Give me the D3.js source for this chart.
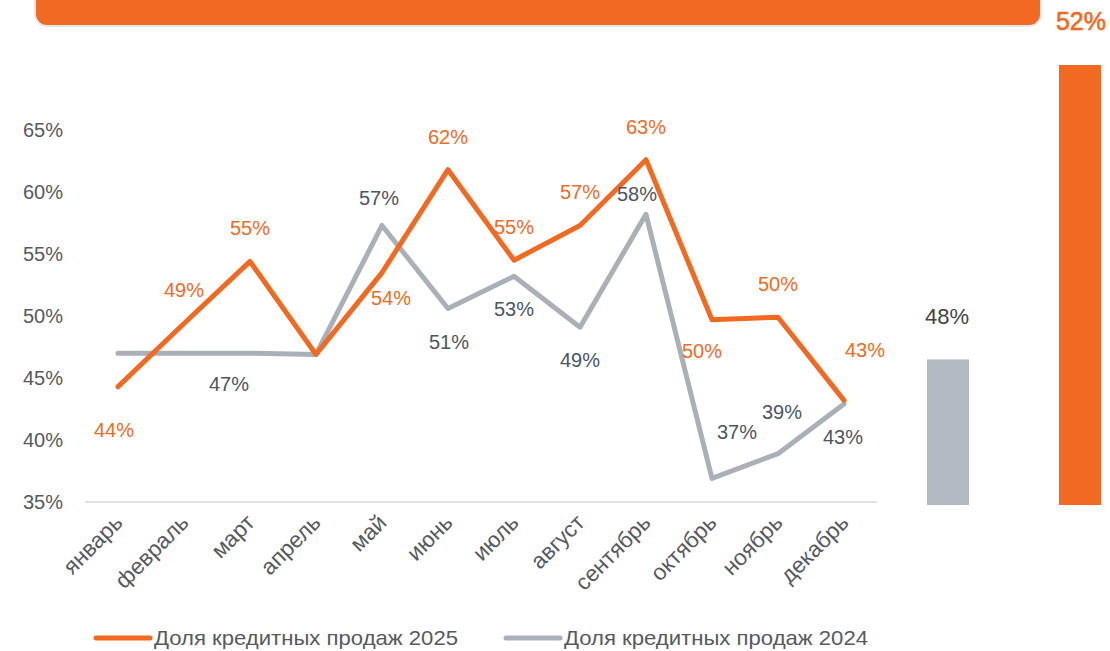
<!DOCTYPE html>
<html>
<head>
<meta charset="utf-8">
<script src="https://cdn.jsdelivr.net/npm/d3@7"></script>
<style>
  body { margin: 0; background: #fff; }
  svg { display: block; font-family: "Liberation Sans", Arial, sans-serif; }
</style>
</head>
<body>
<svg id="chart" width="1110" height="651"></svg>
<script>
// months and series
const months = ['январь', 'февраль', 'март', 'апрель', 'май', 'июнь', 'июль', 'август', 'сентябрь', 'октябрь', 'ноябрь', 'декабрь'];
const share2025 = [44.3, 49.4, 54.4, 46.9, 53.5, 61.8, 54.5, 57.3, 62.6, 49.7, 49.9, 43.2];
const share2024 = [47.0, 47.0, 47.0, 46.9, 57.3, 50.6, 53.2, 49.1, 58.2, 36.9, 38.9, 42.9];
// which labels are shown
const labels2025 = ['44%', '49%', '55%', '', '54%', '62%', '55%', '57%', '63%', '50%', '50%', '43%'];
const labels2024 = ['', '', '47%', '', '57%', '51%', '53%', '49%', '58%', '37%', '39%', '43%'];
const yTicks = [35, 40, 45, 50, 55, 60, 65];
const avg2024 = 46.5, avg2024Label = '48%';
const avg2025Label = '52%';
const legendNames = ['Доля кредитных продаж 2025', 'Доля кредитных продаж 2024'];

const ORANGE = '#F26A21';
const GRAY = '#A9B0B8';
const TEXT = '#555a5f';
const DARK = '#4b5663';

const svg = d3.select('#chart');

const x = d3.scalePoint().domain(months).range([85, 877]).padding(0.5);
const y = d3.scaleLinear().domain([35, 65]).range([502, 130]);

// top banner
svg.append('rect')
  .attr('x', 35).attr('y', -30).attr('width', 1006).attr('height', 56)
  .attr('rx', 12)
  .attr('fill', ORANGE).attr('stroke', '#e2e7eb').attr('stroke-width', 2);

svg.append('text')
  .attr('x', 1081).attr('y', 30)
  .attr('text-anchor', 'middle')
  .attr('fill', ORANGE)
  .attr('font-size', 25)
  .attr('stroke', ORANGE).attr('stroke-width', 0.6)
  .text(avg2025Label);

// baseline
svg.append('line')
  .attr('x1', 85).attr('x2', 877)
  .attr('y1', y(35)).attr('y2', y(35))
  .attr('stroke', '#d9d9d9').attr('stroke-width', 1.5);

// y tick labels
svg.append('g').selectAll('text')
  .data(yTicks).join('text')
  .attr('x', 63).attr('y', d => y(d) + 7)
  .attr('text-anchor', 'end')
  .attr('fill', TEXT)
  .attr('font-size', 20)
  .text(d => d + '%');

// x labels, rotated
svg.append('g').selectAll('text')
  .data(months).join('text')
  .attr('transform', d => `translate(${x(d) + 6},${524}) rotate(-45)`)
  .attr('text-anchor', 'end')
  .attr('fill', TEXT)
  .attr('font-size', 22.5)
  .text(d => d);

const line = d3.line()
  .x((d, i) => x(months[i]))
  .y(d => y(d));

svg.append('path')
  .datum(share2024)
  .attr('d', line)
  .attr('fill', 'none').attr('stroke', GRAY)
  .attr('stroke-width', 5).attr('stroke-linejoin', 'round').attr('stroke-linecap', 'round');

svg.append('path')
  .datum(share2025)
  .attr('d', line)
  .attr('fill', 'none').attr('stroke', ORANGE)
  .attr('stroke-width', 5).attr('stroke-linejoin', 'round').attr('stroke-linecap', 'round');

// label offsets relative to each point
const off2025 = [[-4, 50], [0, -26], [0, -26], [0, 0], [9, 32], [0, -26], [0, -26], [0, -26], [0, -26], [-10, 38], [0, -26], [21, -43]];
const off2024 = [[0, 0], [0, 0], [-21, 38], [0, 0], [-3, -20], [1, 40], [0, 40], [0, 40], [-9, -13], [25, -39], [4, -35], [-1, 40]];

svg.append('g').selectAll('text')
  .data(share2025).join('text')
  .attr('x', (d, i) => x(months[i]) + off2025[i][0])
  .attr('y', (d, i) => y(d) + off2025[i][1])
  .attr('text-anchor', 'middle')
  .attr('fill', ORANGE)
  .attr('font-size', 20)
  .text((d, i) => labels2025[i]);

svg.append('g').selectAll('text')
  .data(share2024).join('text')
  .attr('x', (d, i) => x(months[i]) + off2024[i][0])
  .attr('y', (d, i) => y(d) + off2024[i][1])
  .attr('text-anchor', 'middle')
  .attr('fill', DARK)
  .attr('font-size', 20)
  .text((d, i) => labels2024[i]);

// side bars
svg.append('rect')
  .attr('x', 927).attr('width', 42)
  .attr('y', y(avg2024)).attr('height', y(35) + 3 - y(avg2024))
  .attr('fill', '#B2BAC3');

svg.append('text')
  .attr('x', 947).attr('y', 324)
  .attr('text-anchor', 'middle')
  .attr('fill', '#444')
  .attr('font-size', 22)
  .text(avg2024Label);

svg.append('rect')
  .attr('x', 1059).attr('width', 42)
  .attr('y', 65).attr('height', 440)
  .attr('fill', ORANGE);

// legend
const legend = svg.append('g');
[[96, ORANGE], [506, GRAY]].forEach(([lx, c], i) => {
  legend.append('line')
    .attr('x1', lx).attr('x2', lx + 54)
    .attr('y1', 638).attr('y2', 638)
    .attr('stroke', c).attr('stroke-width', 5).attr('stroke-linecap', 'round');
  legend.append('text')
    .attr('x', lx + 58).attr('y', 645)
    .attr('fill', TEXT)
    .attr('font-size', 21)
    .attr('textLength', 304)
    .attr('lengthAdjust', 'spacingAndGlyphs')
    .text(legendNames[i]);
});
</script>
</body>
</html>
